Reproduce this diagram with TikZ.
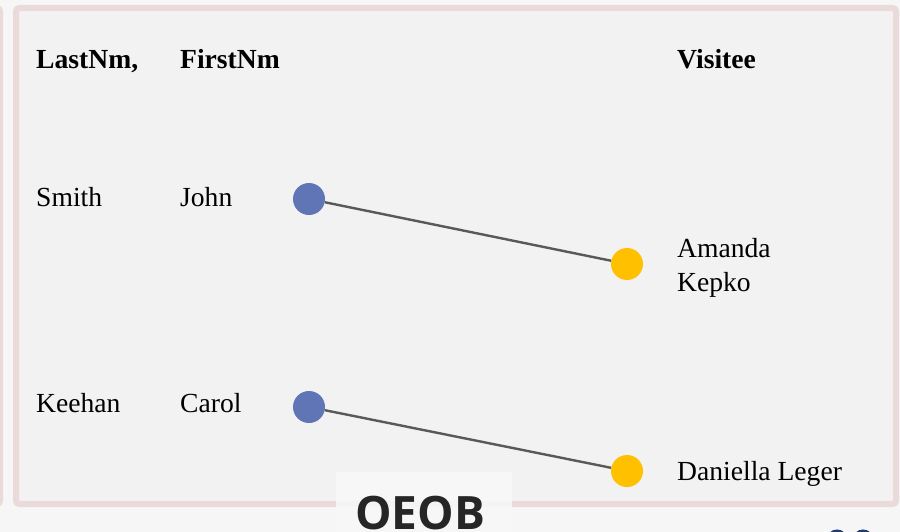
\documentclass[tikz,border=0pt]{standalone}
\usepackage{fontspec}
\setmainfont{Liberation Serif}
\newfontfamily\labelsans{Open Sans}
\definecolor{pagebg}{HTML}{F6F6F6}
\definecolor{panelfill}{HTML}{F2F2F2}
\definecolor{panelrim}{HTML}{EBDADA}
\definecolor{linkgray}{HTML}{595959}
\definecolor{personblue}{HTML}{5F75B5}
\definecolor{visitgold}{HTML}{FFC000}
\definecolor{tagfill}{HTML}{F8F8F8}
\definecolor{inkdark}{HTML}{262626}
\definecolor{pagenum}{HTML}{1F3B6F}
\begin{document}
\begin{tikzpicture}[x=1pt,y=-1pt,
  txt/.style={anchor=base west,inner sep=0pt,font=\fontsize{27.6}{34}\selectfont},
  head/.style={txt,font=\fontsize{27.6}{34}\selectfont\bfseries},
  person/.style={circle,fill=personblue,minimum size=32pt,inner sep=0pt},
  visit/.style={circle,fill=visitgold,minimum size=32pt,inner sep=0pt},
  link/.style={draw=linkgray,line width=2.4pt}]
  \useasboundingbox (0,0) rectangle (900,532);
  \fill[pagebg] (0,0) rectangle (900,532);
  % neighbouring panel edge and main panel
  \draw[panelrim,line width=6pt,rounded corners=3pt] (-100,8) rectangle (0,504);
  \draw[panelrim,fill=panelfill,line width=6pt,rounded corners=3pt] (16,8) rectangle (896,504);
  % column headings
  \node[head] (hlast) at (36,69) {LastNm,};
  \node[head] (hfirst) at (180,69) {FirstNm};
  \node[head] (hvis) at (677,69) {Visitee};
  % visitors
  \node[txt] (l1) at (36,206) {Smith};
  \node[txt] (f1) at (180,206) {John};
  \node[txt] (l2) at (36,412) {Keehan};
  \node[txt] (f2) at (180,412) {Carol};
  % visitees
  \node[txt] (v1a) at (677,257) {Amanda};
  \node[txt] (v1b) at (677,291) {Kepko};
  \node[txt] (v2) at (677,480) {Daniella Leger};
  % connectors
  \node[person] (p1) at (309,199) {};
  \node[visit] (q1) at (627,264) {};
  \node[person] (p2) at (309,407) {};
  \node[visit] (q2) at (627,471) {};
  \draw[link] (p1) -- (q1);
  \draw[link] (p2) -- (q2);
  % building tag
  \fill[tagfill,opacity=0.85] (336,472) rectangle (512,532);
  \node[anchor=base,inner sep=0pt,text=inkdark,font=\labelsans\fontsize{46}{50}\selectfont\bfseries] (tag) at (420,529) {OEOB};
  % page number peeking in at the lower edge
  \begin{scope}
    \clip (0,0) rectangle (900,532);
    \draw[pagenum,line width=3pt] (837,540) circle (9);
    \draw[pagenum,line width=3pt] (863,540) circle (9);
  \end{scope}
\end{tikzpicture}
\end{document}
